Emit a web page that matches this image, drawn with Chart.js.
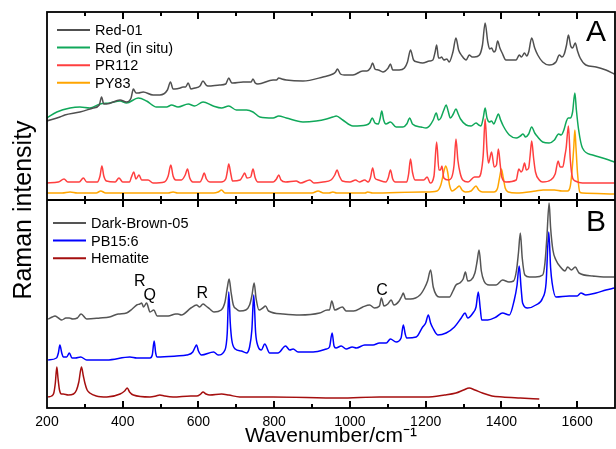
<!DOCTYPE html>
<html>
<head>
<meta charset="utf-8">
<script src="https://cdn.jsdelivr.net/npm/chart.js@4.4.1/dist/chart.umd.min.js"></script>
<style>
  html, body { margin: 0; padding: 0; background: #fff; }
  #wrap { width: 616px; height: 449px; }
</style>
</head>
<body>
<div id="wrap"><canvas id="chart-area" width="616" height="449"></canvas></div>
<script>
// [wavenumber, intensity] (arbitrary units)
var red01 = [[199,79],[234,83],[247,85],[287,88],[322,92],[338,95],[344,103],[350,96],[357,96],[393,100],[410,98],[422,102],[428,111],[435,107],[441,107],[454,108],[480,105],[498,105],[518,110],[526,118],[533,111],[538,111],[552,112],[559,113],[566,113],[573,117],[580,111],[590,112],[604,114],[612,119],[620,115],[625,114],[656,115],[672,116],[680,122],[688,117],[691,117],[718,118],[731,118],[739,118],[744,121],[750,117],[757,116],[797,120],[806,120],[812,122],[820,121],[832,120],[876,119],[929,123],[955,126],[962,128],[967,131],[975,126],[985,125],[1008,125],[1034,129],[1045,129],[1054,132],[1060,137],[1066,131],[1075,130],[1087,128],[1101,132],[1107,136],[1113,130],[1130,130],[1144,132],[1152,138],[1160,150],[1168,140],[1178,138],[1192,137],[1210,139],[1219,140],[1225,148],[1229,155],[1234,142],[1238,142],[1242,143],[1248,140],[1256,141],[1262,138],[1272,148],[1280,162],[1287,150],[1296,144],[1307,140],[1315,145],[1323,143],[1329,143],[1342,145],[1350,155],[1357,177],[1364,158],[1369,151],[1374,152],[1380,148],[1385,150],[1390,159],[1396,152],[1402,147],[1412,140],[1439,140],[1447,145],[1453,143],[1461,147],[1467,144],[1472,148],[1480,162],[1488,152],[1496,145],[1509,138],[1526,135],[1544,138],[1553,145],[1560,143],[1566,146],[1572,155],[1577,165],[1583,154],[1588,152],[1595,157],[1601,149],[1608,142],[1623,135],[1650,133],[1676,130],[1698,126]];
var redInSitu = [[199,82],[226,88],[261,92],[287,93],[313,92],[340,96],[366,97],[393,99],[410,97],[441,102],[463,99],[489,93],[516,93],[529,95],[546,93],[573,96],[590,94],[612,98],[639,94],[661,92],[680,94],[700,90],[727,90],[744,88],[762,83],[797,82],[812,84],[832,82],[876,78],[911,79],[938,81],[955,83],[964,84],[981,80],[1008,74],[1043,75],[1052,77],[1059,82],[1066,77],[1075,76],[1080,82],[1084,89],[1089,80],[1095,76],[1107,78],[1122,73],[1140,73],[1150,76],[1158,82],[1165,76],[1188,73],[1201,72],[1210,74],[1220,80],[1228,87],[1234,80],[1240,82],[1248,90],[1254,95],[1260,88],[1265,82],[1273,86],[1280,91],[1286,86],[1292,81],[1307,75],[1320,74],[1333,77],[1340,75],[1346,74],[1352,82],[1357,92],[1362,82],[1368,78],[1374,79],[1380,76],[1386,81],[1392,86],[1398,80],[1405,74],[1421,65],[1439,62],[1450,64],[1457,66],[1464,63],[1472,66],[1480,73],[1488,67],[1496,63],[1509,58],[1526,57],[1540,60],[1551,66],[1558,65],[1565,70],[1571,78],[1576,82],[1582,82],[1588,88],[1594,107],[1598,90],[1604,70],[1614,52],[1641,45],[1676,41],[1698,38]];
var pr112 = [[199,17],[230,18],[245,21],[255,18],[285,18],[296,22],[305,18],[333,18],[340,24],[345,34],[350,24],[357,19],[380,18],[390,22],[400,18],[418,18],[423,23],[429,28],[435,21],[443,25],[450,20],[467,20],[480,17],[510,18],[520,24],[527,35],[533,24],[540,20],[555,20],[565,25],[571,31],[577,22],[585,18],[604,18],[610,22],[615,27],[621,21],[630,18],[660,18],[672,21],[676,28],[680,36],[685,27],[690,19],[710,20],[717,24],[722,27],[728,22],[738,23],[744,31],[750,22],[757,18],[797,18],[806,21],[812,25],[818,20],[830,18],[858,19],[870,17],[894,20],[905,17],[929,18],[950,20],[960,25],[966,30],[972,24],[980,19],[1000,18],[1015,20],[1025,18],[1039,20],[1048,18],[1054,22],[1060,32],[1066,22],[1075,20],[1095,18],[1101,22],[1107,30],[1113,21],[1120,18],[1150,18],[1155,26],[1160,41],[1165,28],[1172,20],[1195,20],[1204,23],[1212,17],[1222,24],[1229,58],[1235,30],[1239,30],[1243,34],[1248,22],[1260,20],[1268,22],[1275,35],[1280,61],[1285,40],[1291,27],[1298,20],[1312,18],[1329,23],[1340,23],[1346,27],[1352,45],[1357,81],[1362,50],[1366,37],[1374,48],[1381,33],[1387,35],[1392,51],[1397,35],[1401,23],[1412,18],[1439,20],[1446,31],[1452,28],[1456,30],[1461,37],[1466,30],[1472,32],[1476,45],[1480,59],[1485,42],[1490,28],[1500,20],[1509,18],[1530,20],[1542,26],[1550,39],[1555,33],[1562,33],[1568,45],[1571,52],[1577,74],[1582,40],[1588,22],[1595,19],[1614,17],[1650,17],[1698,17]];
var py83 = [[199,7],[240,7],[261,8],[280,7],[330,7],[342,9],[355,7],[500,7],[520,7],[533,8],[545,7],[640,7],[652,8],[661,10],[670,7],[900,7],[916,9],[930,7],[945,7],[955,8],[965,7],[1040,7],[1047,8],[1060,7],[1190,8],[1201,8],[1230,9],[1240,15],[1245,23],[1249,30],[1253,34],[1258,28],[1263,15],[1270,9],[1282,12],[1289,14],[1296,10],[1305,8],[1320,9],[1327,12],[1333,14],[1340,10],[1350,8],[1380,8],[1390,12],[1395,22],[1400,31],[1405,22],[1410,12],[1418,8],[1440,7],[1491,9],[1510,10],[1526,10],[1540,10],[1560,9],[1575,9],[1582,14],[1586,27],[1591,52],[1594,70],[1597,52],[1601,27],[1607,8],[1614,7],[1698,6]];

var darkBrown05 = [[203,89],[214,91],[221,92],[230,90],[239,88],[250,90],[259,90],[268,89],[280,90],[290,94],[305,89],[340,90],[365,91],[388,94],[410,95],[425,99],[437,103],[445,104],[450,105],[455,101],[463,105],[472,96],[482,98],[491,92],[520,92],[540,94],[546,94],[555,93],[580,100],[595,103],[603,101],[612,104],[620,102],[630,99],[641,96],[660,98],[670,106],[676,120],[681,129],[686,116],[692,103],[700,99],[709,97],[725,98],[735,103],[741,112],[747,125],[752,110],[760,98],[770,100],[777,102],[785,97],[823,94],[867,93],[920,95],[940,98],[946,98],[952,107],[960,98],[980,101],[990,97],[1010,97],[1034,101],[1052,103],[1065,100],[1078,102],[1083,110],[1090,102],[1100,104],[1109,108],[1116,103],[1130,107],[1137,112],[1141,115],[1147,109],[1160,109],[1185,113],[1197,120],[1205,127],[1213,138],[1220,121],[1228,113],[1236,111],[1263,111],[1272,117],[1280,123],[1290,125],[1299,129],[1305,136],[1311,127],[1320,128],[1330,135],[1336,147],[1341,158],[1347,137],[1354,127],[1368,123],[1386,123],[1403,128],[1420,126],[1432,127],[1440,138],[1445,155],[1450,175],[1455,150],[1462,133],[1474,131],[1490,131],[1509,133],[1515,145],[1520,170],[1526,205],[1530,180],[1536,158],[1544,148],[1556,141],[1568,137],[1575,141],[1585,138],[1595,141],[1605,135],[1641,132],[1670,131],[1698,131]];
var pb156 = [[203,48],[225,50],[230,55],[234,63],[239,55],[243,51],[252,51],[259,55],[266,50],[275,50],[289,51],[305,48],[358,48],[419,51],[437,50],[472,50],[478,53],[483,67],[487,55],[491,51],[542,52],[569,53],[585,56],[590,60],[595,63],[600,57],[608,53],[640,56],[652,53],[670,58],[676,75],[680,116],[684,85],[688,68],[697,59],[713,57],[727,55],[735,61],[741,78],[746,113],[751,75],[757,62],[766,58],[775,64],[788,55],[810,55],[830,62],[841,58],[850,59],[863,56],[903,56],[938,59],[946,61],[953,75],[958,62],[963,60],[977,62],[990,59],[1006,61],[1017,60],[1039,63],[1061,63],[1078,65],[1096,65],[1107,69],[1122,66],[1135,70],[1141,83],[1146,74],[1150,70],[1175,71],[1192,81],[1200,85],[1207,93],[1213,85],[1219,80],[1232,73],[1254,75],[1276,81],[1294,90],[1304,95],[1311,90],[1325,95],[1333,101],[1339,116],[1344,100],[1348,88],[1364,88],[1386,91],[1403,95],[1421,93],[1434,108],[1441,122],[1447,142],[1452,120],[1456,105],[1469,100],[1491,103],[1509,110],[1518,125],[1525,176],[1530,140],[1534,125],[1544,111],[1579,112],[1600,112],[1610,115],[1623,113],[1650,115],[1676,118],[1698,120]];
var hematite = [[203,11],[212,12],[218,15],[222,25],[226,41],[229,30],[233,18],[238,14],[243,14],[256,13],[270,14],[278,18],[284,26],[291,41],[296,32],[300,25],[306,18],[313,15],[330,12],[358,11],[393,14],[405,17],[412,20],[418,16],[428,13],[472,11],[488,12],[498,13],[510,12],[533,11],[580,12],[595,12],[606,14],[612,16],[620,14],[630,13],[661,14],[680,13],[709,11],[797,11],[973,10],[1078,11],[1201,11],[1250,13],[1280,15],[1300,18],[1315,20],[1330,18],[1350,15],[1375,12],[1403,11],[1450,10],[1500,9]];

var xTicks = [200, 400, 600, 800, 1000, 1200, 1400, 1600];

// annotations in panel B: [letter, wavenumber, intensity]
var bandMarks = [['R', 445, 126], ['Q', 471, 112], ['R', 610, 114], ['C', 1085, 117]];

var FONT = "'Liberation Sans', Arial, Helvetica, sans-serif";

function series(label, pts, color, axis) {
  return {
    label: label,
    data: pts.map(function (p) { return {x: p[0], y: p[1]}; }),
    borderColor: color,
    backgroundColor: color,
    borderWidth: 1.5,
    pointRadius: 0,
    cubicInterpolationMode: 'monotone',
    fill: false,
    yAxisID: axis
  };
}

var framePlugin = {
  id: 'frame',
  afterDraw: function (chart) {
    var ctx = chart.ctx, a = chart.chartArea;
    var xs = chart.scales.x, yA = chart.scales.yA, yB = chart.scales.yB;
    var mid = yA.bottom;
    ctx.save();
    ctx.strokeStyle = '#000';
    ctx.lineWidth = 1.8;
    ctx.strokeRect(a.left, a.top, a.right - a.left, a.bottom - a.top);
    ctx.beginPath();
    ctx.moveTo(a.left, mid); ctx.lineTo(a.right, mid);
    ctx.stroke();

    // inward ticks
    ctx.lineWidth = 2;
    for (var v = 300; v <= 1600; v += 100) {
      var px = Math.round(xs.getPixelForValue(v));
      var len = v % 200 === 0 ? 7 : 4;
      ctx.beginPath();
      ctx.moveTo(px, a.top); ctx.lineTo(px, a.top + len);
      ctx.moveTo(px, mid - len); ctx.lineTo(px, mid + len);
      ctx.moveTo(px, a.bottom); ctx.lineTo(px, a.bottom - len);
      ctx.stroke();
    }

    // legends
    ctx.font = '14.5px ' + FONT;
    ctx.textBaseline = 'middle';
    ctx.textAlign = 'left';
    var ds = chart.data.datasets;
    function legendRow(d, x0, y0) {
      ctx.strokeStyle = d.borderColor;
      ctx.lineWidth = 2;
      ctx.beginPath();
      ctx.moveTo(x0, y0); ctx.lineTo(x0 + 33, y0);
      ctx.stroke();
      ctx.fillStyle = '#000';
      ctx.fillText(d.label, x0 + 38, y0 + 1);
    }
    for (var i = 0; i < 4; i++) legendRow(ds[i], a.left + 10, yA.top + 18 + i * 17.6);
    for (var j = 0; j < 3; j++) legendRow(ds[4 + j], a.left + 6, yB.top + 23 + j * 17.6);

    // panel letters
    ctx.fillStyle = '#000';
    ctx.font = '30px ' + FONT;
    ctx.textAlign = 'center';
    ctx.fillText('A', a.right - 19, yA.top + 21);
    ctx.fillText('B', a.right - 19, yB.top + 23);

    // band letters
    ctx.font = '16px ' + FONT;
    bandMarks.forEach(function (m) {
      ctx.fillText(m[0], xs.getPixelForValue(m[1]), yB.getPixelForValue(m[2]));
    });

    // y title
    ctx.font = '25px ' + FONT;
    ctx.translate(24, (a.top + a.bottom) / 2);
    ctx.rotate(-Math.PI / 2);
    ctx.fillText('Raman intensity', 0, 0);
    ctx.restore();
  }
};

function hideY(scale) { scale.width = 0; }

var config = {
  type: 'line',
  data: {
    datasets: [
      series('Red-01', red01, '#505050', 'yA'),
      series('Red (in situ)', redInSitu, '#10a85a', 'yA'),
      series('PR112', pr112, '#ff3f3f', 'yA'),
      series('PY83', py83, '#ffa500', 'yA'),
      series('Dark-Brown-05', darkBrown05, '#555555', 'yB'),
      series('PB15:6', pb156, '#0000ff', 'yB'),
      series('Hematite', hematite, '#a50f0f', 'yB')
    ]
  },
  options: {
    responsive: false,
    animation: false,
    events: [],
    layout: { padding: { top: 12, left: 47, right: 1, bottom: 0 } },
    plugins: { legend: { display: false }, tooltip: { enabled: false } },
    scales: {
      x: {
        type: 'linear',
        min: 200,
        max: 1700,
        position: 'bottom',
        grid: { display: false, drawTicks: false },
        border: { display: false },
        afterBuildTicks: function (s) { s.ticks = xTicks.map(function (v) { return {value: v}; }); },
        ticks: {
          color: '#000', padding: 6, font: { family: FONT, size: 14 }, maxRotation: 0, autoSkip: false,
          callback: function (v) { return String(v); }
        },
        title: { display: true, text: 'Wavenumber/cm\u207B\u00B9', color: '#000', font: { family: FONT, size: 21 }, padding: { top: 0, bottom: 0 } },
        afterFit: function (s) { s.height = 41; }
      },
      yA: {
        type: 'linear', position: 'left', min: 0, max: 188,
        stack: 'panels', stackWeight: 188, weight: 2,
        ticks: { display: false }, grid: { display: false }, border: { display: false },
        afterFit: hideY
      },
      yB: {
        type: 'linear', position: 'left', min: 0, max: 208,
        stack: 'panels', stackWeight: 208, weight: 1,
        ticks: { display: false }, grid: { display: false }, border: { display: false },
        afterFit: hideY
      }
    }
  },
  plugins: [framePlugin]
};

var ctx = document.getElementById('chart-area').getContext('2d');
window.myChart = new Chart(ctx, config);
</script>
</body>
</html>
